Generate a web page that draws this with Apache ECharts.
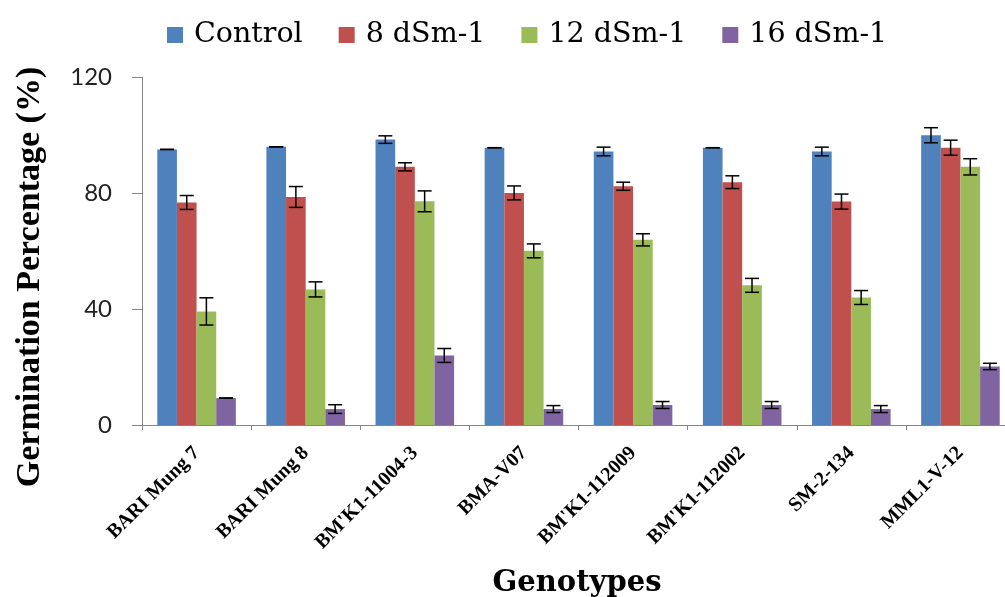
<!DOCTYPE html>
<html>
<head>
<meta charset="utf-8">
<script src="https://cdn.jsdelivr.net/npm/echarts@6/dist/echarts.min.js"></script>
<style>
html,body{margin:0;padding:0;background:#fff;}
#chart{width:1005px;height:597px;}
</style>
</head>
<body>
<div id="chart"></div>
<script>
const categories = ["BARI Mung 7", "BARI Mung 8", "BM'K1-11004-3", "BMA-V07", "BM'K1-112009", "BM'K1-112002", "SM-2-134", "MML1-V-12"];
const seriesNames = ["Control", "8 dSm-1", "12 dSm-1", "16 dSm-1"];
const control = [95.1, 96.0, 98.5, 95.7, 94.4, 95.7, 94.4, 100.0];
const controlErr = [0, 0, 1.3, 0, 1.5, 0, 1.5, 2.6];
const ds8 = [76.8, 78.7, 89.1, 80.1, 82.4, 83.8, 77.1, 95.7];
const ds8Err = [2.4, 3.6, 1.4, 2.4, 1.4, 2.2, 2.6, 2.6];
const ds12 = [39.2, 46.8, 77.2, 60.1, 63.9, 48.2, 44.0, 89.1];
const ds12Err = [4.7, 2.6, 3.6, 2.4, 2.1, 2.4, 2.4, 2.8];
const ds16 = [9.3, 5.5, 24.0, 5.5, 6.9, 6.9, 5.5, 20.2];
const ds16Err = [0, 1.5, 2.4, 1.2, 1.2, 1.2, 1.2, 1.1];
const yTicks = [0, 40, 80, 120];

const values = [control, ds8, ds12, ds16];
const errors = [controlErr, ds8Err, ds12Err, ds16Err];
const colors = ["#4F81BD", "#C0504D", "#9BBB59", "#8064A2"];
const CAT_GAP = 0.28;

const chart = echarts.init(document.getElementById('chart'), null, {renderer: 'canvas'});

const barSeries = seriesNames.map((name, i) => ({
  name: name,
  type: 'bar',
  data: values[i],
  barGap: '0%',
  barCategoryGap: (CAT_GAP * 100) + '%',
  itemStyle: {color: colors[i]},
  z: 2
}));

const errSeries = seriesNames.map((name, i) => ({
  type: 'custom',
  name: name + ' err',
  z: 5,
  silent: true,
  data: categories.map((c, k) => [k, values[i][k], errors[i][k]]),
  encode: {x: 0, y: 1},
  renderItem: function (params, api) {
    const k = api.value(0), v = api.value(1), e = api.value(2);
    const band = api.size([1, 0])[0];
    const bw = band * (1 - CAT_GAP) / 4;
    const base = api.coord([k, v]);
    const x = base[0] + (i - 1.5) * bw;
    const hi = api.coord([k, v + e])[1];
    const lo = api.coord([k, v - e])[1];
    const hw = 7;
    const st = {stroke: '#000', lineWidth: 1.5};
    return {
      type: 'group',
      children: [
        {type: 'line', shape: {x1: x, y1: hi, x2: x, y2: lo}, style: st},
        {type: 'line', shape: {x1: x - hw, y1: hi, x2: x + hw, y2: hi}, style: st},
        {type: 'line', shape: {x1: x - hw, y1: lo, x2: x + hw, y2: lo}, style: st}
      ]
    };
  }
}));

const option = {
  animation: false,
  backgroundColor: '#fff',
  legend: {
    data: seriesNames,
    left: 162,
    top: 15,
    icon: 'rect',
    itemWidth: 16,
    itemHeight: 16,
    itemGap: 36,
    textStyle: {
      fontFamily: 'DejaVu Serif',
      fontSize: 28.5,
      color: '#000',
      lineHeight: 30,
      padding: [0, 0, 0, 6]
    }
  },
  grid: {
    left: 142,
    top: 77.3,
    right: -10,
    bottom: 172,
    outerBoundsMode: 'none'
  },
  xAxis: {
    type: 'category',
    data: categories,
    axisLine: {show: true, lineStyle: {color: '#868686', width: 1}},
    axisTick: {show: true, interval: 0, length: 5, lineStyle: {color: '#868686'}},
    axisLabel: {
      interval: 0,
      rotate: 45,
      margin: 25,
      fontFamily: 'Liberation Serif',
      fontWeight: 'bold',
      fontSize: 20,
      color: '#000'
    },
    splitLine: {show: false}
  },
  yAxis: {
    type: 'value',
    min: yTicks[0],
    max: yTicks[yTicks.length - 1],
    interval: yTicks[1] - yTicks[0],
    axisLine: {show: true, lineStyle: {color: '#868686', width: 1}},
    axisTick: {show: true, length: 10, lineStyle: {color: '#868686'}},
    axisLabel: {
      margin: 30,
      fontFamily: 'Lato',
      fontSize: 24,
      color: '#222'
    },
    splitLine: {show: false}
  },
  graphic: [
    {
      type: 'text',
      x: 30,
      y: 277,
      rotation: Math.PI / 2,
      style: {
        text: 'Germination Percentage (%)',
        fontFamily: 'Liberation Serif',
        fontWeight: 'bold',
        fontSize: 34,
        fill: '#000',
        align: 'center',
        verticalAlign: 'middle'
      }
    },
    {
      type: 'text',
      x: 577,
      y: 583,
      style: {
        text: 'Genotypes',
        fontFamily: 'DejaVu Serif',
        fontWeight: 'bold',
        fontSize: 29,
        fill: '#000',
        align: 'center',
        verticalAlign: 'middle'
      }
    }
  ],
  series: barSeries.concat(errSeries)
};

chart.setOption(option);
</script>
</body>
</html>
